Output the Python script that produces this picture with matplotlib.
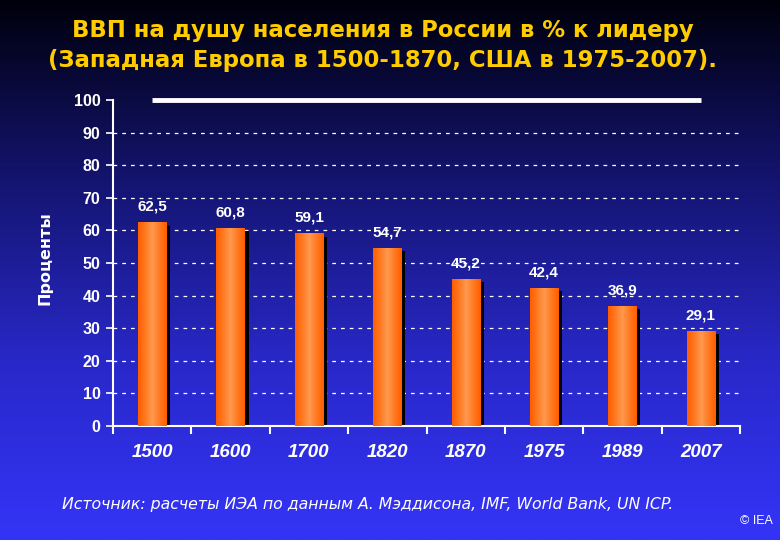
import numpy as np
import matplotlib
matplotlib.use("Agg")
import matplotlib.pyplot as plt
from matplotlib.colors import LinearSegmentedColormap
from matplotlib.patches import Rectangle

categories = ["1500", "1600", "1700", "1820", "1870", "1975", "1989", "2007"]
values = [62.5, 60.8, 59.1, 54.7, 45.2, 42.4, 36.9, 29.1]
labels = ["62,5", "60,8", "59,1", "54,7", "45,2", "42,4", "36,9", "29,1"]
leader = 100

plt.rcParams['font.family'] = ['Liberation Sans', 'DejaVu Sans']

fig = plt.figure(figsize=(7.8, 5.4), dpi=100)

# background gradient
bg = fig.add_axes([0, 0, 1, 1], zorder=0)
bg_cmap = LinearSegmentedColormap.from_list("bg", ["#00000c", "#141470", "#2828c8", "#3434f8"], N=256)
grad = np.linspace(0, 1, 256).reshape(-1, 1)
bg.imshow(grad, aspect='auto', cmap=bg_cmap, extent=[0, 1, 0, 1], origin='upper')
bg.set_axis_off()

ax = fig.add_axes([113/780, 1 - 426/540, (740-113)/780, (426-100)/540], zorder=1)
ax.patch.set_alpha(0)

n = len(categories)
x = np.arange(n)
bw = 0.36
bar_cmap = LinearSegmentedColormap.from_list("bar", ["#ff5e00", "#ff7a22", "#ff9a50", "#ff7a22", "#ff5e00"])

for xi, v, lab in zip(x, values, labels):
    # shadow
    sh = Rectangle((xi - bw/2 + 0.05, 0), bw, v - 1.0, facecolor='black', edgecolor='none', zorder=2)
    ax.add_patch(sh)
    r = Rectangle((xi - bw/2, 0), bw, v, facecolor='#ff6a10', edgecolor='none', zorder=3)
    ax.add_patch(r)
    im = ax.imshow(np.linspace(0, 1, 64).reshape(1, -1), aspect='auto', cmap=bar_cmap,
                   extent=[xi - bw/2, xi + bw/2, 0, v], zorder=3.5)
    im.set_clip_path(r)
    ax.text(xi, v + 2.6, lab, ha='center', va='bottom', color='white', fontsize=11,
            fontweight='bold', zorder=5)

# leader line at 100
ax.plot([x[0], x[-1]], [leader, leader], color='white', lw=3.5, solid_capstyle='butt', zorder=4,
        clip_on=False)

ax.set_xlim(-0.5, n - 0.5)
ax.set_ylim(0, 100)
ax.set_yticks(np.arange(0, 101, 10))
ax.set_yticklabels([str(t) for t in range(0, 101, 10)], color='white', fontsize=11.5, fontweight='bold')
for t in range(10, 100, 10):
    ax.axhline(t, color='white', lw=0.9, ls=(0, (3, 4)), zorder=1)

ax.set_xticks(np.arange(-0.5, n, 1.0))
ax.set_xticklabels([])
ax.tick_params(axis='x', direction='out', length=6, width=1.5, color='white')
ax.tick_params(axis='y', direction='out', length=5, width=1.2, color='white', pad=4)
for xi, c in zip(x, categories):
    ax.text(xi, -8.2, c, ha='center', va='center', color='white', fontsize=13.5,
            fontweight='bold', fontstyle='italic')

for s in ['top', 'right']:
    ax.spines[s].set_visible(False)
for s in ['left', 'bottom']:
    ax.spines[s].set_color('white')
    ax.spines[s].set_linewidth(1.5)

fig.text(45/780, 1 - 258/540, "Проценты", rotation=90, ha='center', va='center', color='white',
         fontsize=11.5, fontweight='bold', family=['DejaVu Sans'])

fig.text(383/780, 1 - 31/540, "ВВП на душу населения в России в % к лидеру", ha='center', va='center',
         color='#ffcc00', fontsize=16.4, fontweight='bold', family=['DejaVu Sans'])
fig.text(383/780, 1 - 61/540, "(Западная Европа в 1500-1870, США в 1975-2007).", ha='center', va='center',
         color='#ffcc00', fontsize=16.4, fontweight='bold', family=['DejaVu Sans'])

fig.text(62/780, 1 - 505/540, "Источник: расчеты ИЭА по данным А. Мэддисона, IMF, World Bank, UN ICP.",
         ha='left', va='center', color='white', fontsize=11.3, fontstyle='italic', family=['DejaVu Sans'])
fig.text(773/780, 1 - 521/540, "© IEA", ha='right', va='center', color='white', fontsize=9)

fig.savefig("out.png", dpi=100)
